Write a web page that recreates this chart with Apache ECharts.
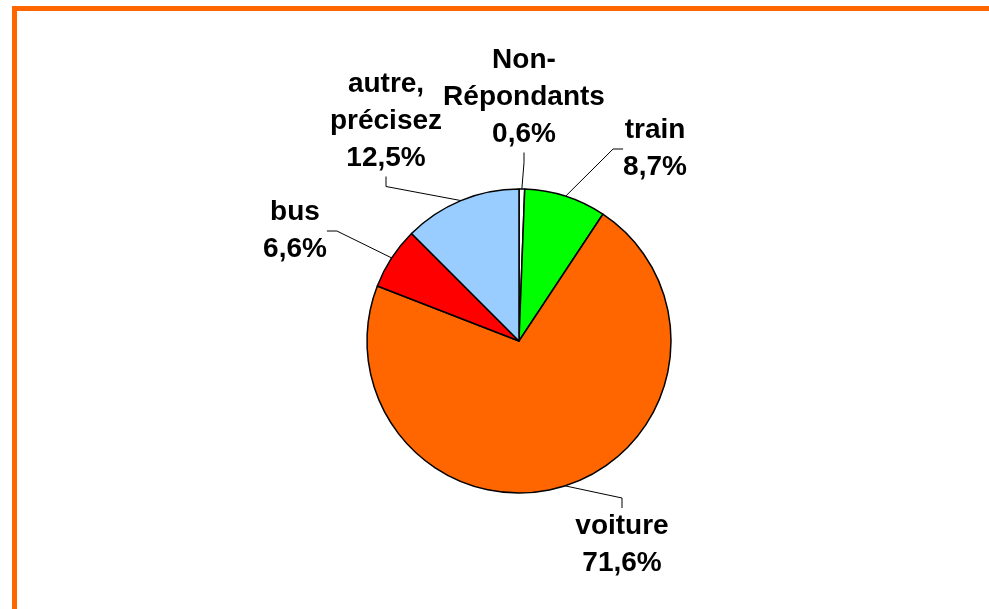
<!DOCTYPE html>
<html>
<head>
<meta charset="utf-8">
<script src="https://cdn.jsdelivr.net/npm/echarts@6/dist/echarts.min.js"></script>
<style>
  html, body { margin: 0; padding: 0; background: #fff; }
  #chart { width: 989px; height: 609px; }
</style>
</head>
<body>
<div id="chart"></div>
<script>
// données (ordre horaire depuis le haut)
var categories = ['Non-\nRépondants', 'train', 'voiture', 'bus', 'autre,\nprécisez'];
var values = [0.6, 8.7, 71.6, 6.6, 12.5];
var colors = ['#FFFFFF', '#00FF00', '#FF6600', '#FF0000', '#99CCFF'];

// position des étiquettes (centre du bloc de texte)
var labelPos = [[524, 97], [655, 149], [622, 545], [295, 231], [386, 121]];

var myChart = echarts.init(document.getElementById('chart'));

var pieData = categories.map(function (c, i) {
    return { name: c, value: values[i], itemStyle: { color: colors[i] } };
});

var option = {
    backgroundColor: '#fff',
    animation: false,
    graphic: [{
        type: 'rect',
        shape: { x: 14.5, y: 8.5, width: 1000, height: 700 },
        style: { fill: 'none', stroke: '#FF6600', lineWidth: 5 }
    }],
    series: [{
        type: 'pie',
        center: [519, 341],
        radius: 152,
        startAngle: 90,
        clockwise: true,
        data: pieData,
        itemStyle: { borderColor: '#000', borderWidth: 1.5 },
        label: {
            show: true,
            position: 'outside',
            color: '#000',
            fontFamily: 'Liberation Sans, Arial, sans-serif',
            fontWeight: 'bold',
            fontSize: 28,
            lineHeight: 37,
            align: 'center',
            formatter: function (p) {
                return p.name + '\n' + p.value.toFixed(1).replace('.', ',') + '%';
            }
        },
        labelLine: {
            show: true,
            length: 10,
            length2: 10,
            lineStyle: { color: '#000', width: 1 }
        },
        labelLayout: function (p) {
            var pos = labelPos[p.dataIndex];
            return { x: pos[0], y: pos[1], align: 'center', verticalAlign: 'middle' };
        },
        emphasis: { disabled: true }
    }]
};

myChart.setOption(option);
</script>
</body>
</html>
